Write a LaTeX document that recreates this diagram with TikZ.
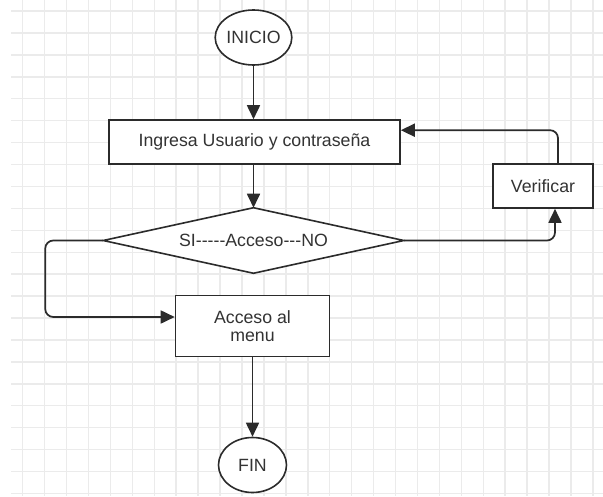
\documentclass[tikz,border=0pt]{standalone}
\usepackage{fontspec}
\setmainfont{Liberation Sans}
\usetikzlibrary{shapes.geometric,arrows.meta}
\definecolor{gridgray}{HTML}{EBEBEB}
\definecolor{ink}{HTML}{2B2B2B}
\definecolor{txt}{HTML}{333333}
\tikzset{
  label font/.style={text=txt, font=\fontsize{13.3}{15}\selectfont},
  shapeline/.style={draw=ink, line width=1.2pt, fill=white, label font, inner sep=0pt, align=center},
  terminal/.style={shapeline, ellipse, minimum width=51pt, minimum height=41.25pt},
  process/.style={shapeline, rectangle},
  decisionbox/.style={label font, rectangle, inner sep=0pt, minimum width=225pt, minimum height=48.75pt},
  flow/.style={draw=ink, line width=1.3pt, rounded corners=6pt, -{Triangle[length=10.5pt,width=9.75pt]}},
  gridline/.style={draw=gridgray, line width=1.1pt}
}
\begin{document}
\begin{tikzpicture}[x=0.75pt, y=-0.75pt]
  % canvas and background grid
  \fill[white] (0,0) rectangle (603,496);
  \useasboundingbox (0,0) rectangle (603,496);
  \foreach \k in {0,...,26} {
    \draw[gridline] ({22.7+21.93*\k},0) -- ({22.7+21.93*\k},496);
  }
  \foreach \k in {0,...,22} {
    \draw[gridline] (11,{11+21.93*\k}) -- (603,{11+21.93*\k});
  }

  % nodes
  \node[terminal] (ini) at (253.5,37.5) {INICIO};
  \node[process, minimum width=218.25pt, minimum height=33pt] (ing) at (254.5,142) {Ingresa Usuario y contraseña};
  % decision: a diamond drawn through the tips of its bounding box
  \node[decisionbox] (dec) at (253.5,240.5) {};
  \draw[draw=ink, line width=1.2pt, fill=white, line join=miter]
    (dec.north) -- (dec.east) -- (dec.south) -- (dec.west) -- cycle;
  \node[label font] (dectext) at (dec.center) {SI-{}-{}-{}-{}-Acceso-{}-{}-NO};
  \node[process, minimum width=75pt, minimum height=33pt] (ver) at (543,186) {Verificar};
  \node[process, minimum width=115.5pt, minimum height=45.75pt] (acc) at (252.5,326) {Acceso al\\[-2pt]menu};
  \node[terminal] (fin) at (252.5,465) {FIN};

  % connectors
  \draw[flow] (ini.south) -- (ini.south |- ing.north);
  \draw[flow] (dec.north |- ing.south) -- (dec.north);
  \draw[flow] (dec.east) -| ([xshift=9pt]ver.south);
  \draw[flow] ([xshift=11.25pt]ver.north) |- ([yshift=-8.25pt]ing.north east);
  \draw[flow] (dec.west) -- ++(-58,0) |- ([yshift=6.75pt]acc.west);
  \draw[flow] (acc.south) -- (fin.north);
\end{tikzpicture}
\end{document}
